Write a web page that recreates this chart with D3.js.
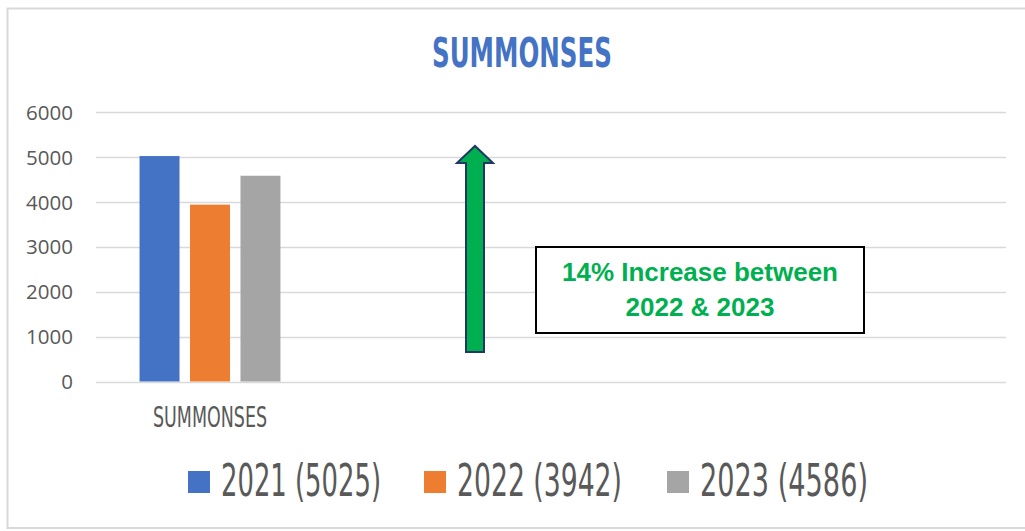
<!DOCTYPE html>
<html>
<head>
<meta charset="utf-8">
<script src="https://cdn.jsdelivr.net/npm/d3@7"></script>
<style>
  html, body { margin: 0; padding: 0; background: #fff; }
  svg { display: block; }
</style>
</head>
<body>
<svg id="chart" width="1025" height="531"></svg>
<script>
// chart data
var categories = ["SUMMONSES"];
var years = ["2021", "2022", "2023"];
var values = [5025, 3942, 4586];
var legendLabels = ["2021 (5025)", "2022 (3942)", "2023 (4586)"];
var colors = ["#4472C4", "#ED7D31", "#A5A5A5"];
var yTicks = [0, 1000, 2000, 3000, 4000, 5000, 6000];
var noteLines = ["14% Increase between", "2022 & 2023"];

var narrow = "'Liberation Sans Narrow', 'DejaVu Sans Condensed', 'Liberation Sans', sans-serif";

var svg = d3.select("#chart");

// outer frame (left, top, bottom)
svg.append("path")
	.attr("d", "M1025,8.5 H7.5 V528 H1025")
	.attr("fill", "none")
	.attr("stroke", "#D9D9D9")
	.attr("stroke-width", 2);

// title
svg.append("text")
	.attr("x", 432)
	.attr("y", 67)
	.attr("textLength", 180)
	.attr("lengthAdjust", "spacingAndGlyphs")
	.attr("font-family", narrow)
	.attr("font-weight", "bold")
	.attr("font-size", 40)
	.attr("fill", "#4472C4")
	.text("SUMMONSES");

var y = d3.scaleLinear().domain([0, 6000]).range([381.5, 112.3]);

var x0 = d3.scaleBand().domain(categories).range([96, 324]).paddingOuter(0.309).paddingInner(0);
var x1 = d3.scaleBand().domain(years).range([0, x0.bandwidth()]).paddingInner(0.208);

// gridlines
svg.append("g").selectAll("line")
	.data(yTicks)
	.join("line")
	.attr("x1", 96)
	.attr("x2", 1006)
	.attr("y1", d => Math.round(y(d)) + 0.5)
	.attr("y2", d => Math.round(y(d)) + 0.5)
	.attr("stroke", "#D9D9D9")
	.attr("stroke-width", 1.5);

// y axis labels
svg.append("g").selectAll("text")
	.data(yTicks)
	.join("text")
	.attr("x", 73)
	.attr("y", d => y(d) + 7.5)
	.attr("text-anchor", "end")
	.attr("font-family", "'Open Sans', 'Liberation Sans', sans-serif")
	.attr("font-size", 20.5)
	.attr("fill", "#595959")
	.text(d => d);

// bars
var group = svg.append("g").selectAll("g")
	.data(categories)
	.join("g")
	.attr("transform", d => "translate(" + x0(d) + ",0)");

group.selectAll("rect")
	.data(years.map((yr, i) => ({year: yr, value: values[i], color: colors[i]})))
	.join("rect")
	.attr("x", d => x1(d.year))
	.attr("y", d => y(d.value))
	.attr("width", x1.bandwidth())
	.attr("height", d => y(0) - y(d.value))
	.attr("fill", d => d.color);

// category label
svg.append("g").selectAll("text")
	.data(categories)
	.join("text")
	.attr("x", d => x0(d) + x0.bandwidth() / 2 - 57)
	.attr("y", 427)
	.attr("textLength", 114)
	.attr("lengthAdjust", "spacingAndGlyphs")
	.attr("font-family", narrow)
	.attr("font-size", 28)
	.attr("fill", "#595959")
	.text(d => d);

// green arrow annotation
var arrow = {x: 475, tip: 146, headBase: 163, bottom: 352, shaft: 9, head: 18};
svg.append("path")
	.attr("d", "M" + (arrow.x - arrow.shaft) + "," + arrow.bottom +
		" V" + arrow.headBase +
		" H" + (arrow.x - arrow.head) +
		" L" + arrow.x + "," + arrow.tip +
		" L" + (arrow.x + arrow.head) + "," + arrow.headBase +
		" H" + (arrow.x + arrow.shaft) +
		" V" + arrow.bottom + " Z")
	.attr("fill", "#00B050")
	.attr("stroke", "#1F3864")
	.attr("stroke-width", 2)
	.attr("stroke-linejoin", "miter");

// note box
svg.append("rect")
	.attr("x", 536)
	.attr("y", 247)
	.attr("width", 328)
	.attr("height", 86)
	.attr("fill", "#fff")
	.attr("stroke", "#000")
	.attr("stroke-width", 2);

svg.append("g").selectAll("text")
	.data(noteLines)
	.join("text")
	.attr("x", 700)
	.attr("y", (d, i) => 281 + i * 35)
	.attr("text-anchor", "middle")
	.attr("font-family", "'Liberation Sans', Arial, sans-serif")
	.attr("font-weight", "bold")
	.attr("font-size", 26)
	.attr("fill", "#00B050")
	.text(d => d);

// legend
var legendX = [188, 424, 667];
var legendW = [160, 165, 168];
var legend = svg.append("g").selectAll("g")
	.data(legendLabels)
	.join("g")
	.attr("transform", (d, i) => "translate(" + legendX[i] + ",471)");

legend.append("rect")
	.attr("width", 22)
	.attr("height", 22)
	.attr("fill", (d, i) => colors[i]);

legend.append("text")
	.attr("x", 33)
	.attr("y", 25)
	.attr("textLength", (d, i) => legendW[i])
	.attr("lengthAdjust", "spacingAndGlyphs")
	.attr("font-family", narrow)
	.attr("font-size", 44)
	.attr("fill", "#595959")
	.text(d => d);
</script>
</body>
</html>
